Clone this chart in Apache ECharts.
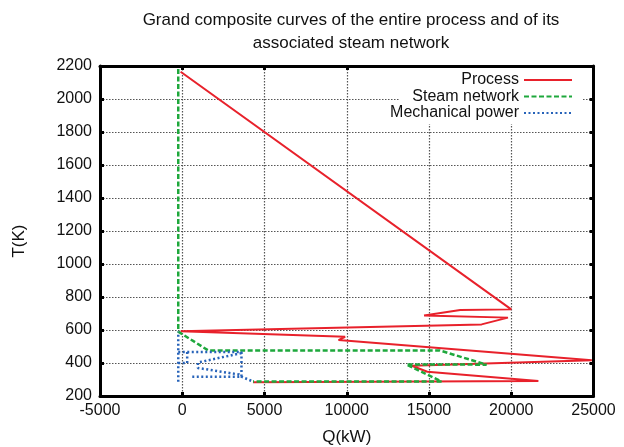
<!DOCTYPE html>
<html><head><meta charset="utf-8">
<script src="https://cdn.jsdelivr.net/npm/echarts@6/dist/echarts.min.js"></script>
<style>html,body{margin:0;padding:0;background:#fff}#c{width:624px;height:447px}</style>
</head><body><div id="c"></div>
<script>
// ---- data ----
const xTicks = [-5000, 0, 5000, 10000, 15000, 20000, 25000];
const yTicks = [200, 400, 600, 800, 1000, 1200, 1400, 1600, 1800, 2000, 2200];
const titleText = 'Grand composite curves of the entire process and of its\nassociated steam network';
const xName = 'Q(kW)';
const yName = 'T(K)';
const seriesNames = ['Process', 'Steam network', 'Mechanical power'];

const processQ = [-100, 20000, 16900, 14700, 19800, 18200, -100, 9900, 9500, 24900, 13950, 14900, 21650, 4300];
const processT = [2165, 725, 721, 688, 675, 634, 592, 559, 539, 417, 383, 347, 291, 283];

const steamQ = [-243, -243, 1580, 15650, 18500, 13630, 15760, 4300];
const steamT = [2182, 590, 476, 476, 390, 391, 288, 288];

// null = break in the curve
const mechQ = [-243, -243, null, -243, 3600, 3600, 570, null, 3600, 950, 950, 3450, 3600, 4300, null, -243, 300, 300];
const mechT = [287, 590, null, 466, 466, 317, 317, null, 460, 403, 370, 330, 317, 288, null, 400, 400, 466];

// ---- build ----
function pairs(q, t) {
  return q.map((v, i) => (v === null || t[i] === null) ? ['-', '-'] : [v, t[i]]);
}
const FONT = '"Liberation Sans", Arial, sans-serif';
const colors = ['#e8212b', '#1ea83c', '#2763b9'];
const lineTypes = ['solid', [5, 2.5], [2, 2.5]];
const widths = [2, 2.5, 2.5];
const dataSets = [pairs(processQ, processT), pairs(steamQ, steamT), pairs(mechQ, mechT)];

const chart = echarts.init(document.getElementById('c'), null, {renderer: 'canvas'});
const legendCenters = [80, 96.5, 113];

const axisCommon = {
  axisLine: {show: true, onZero: false, lineStyle: {color: '#000', width: 3}},
  axisTick: {show: true, inside: true, length: 4, lineStyle: {color: '#000', width: 3}},
};
const plain = v => String(v);

chart.setOption({
  animation: false,
  backgroundColor: '#fff',
  textStyle: {fontFamily: FONT},
  title: {
    text: titleText,
    left: 351, top: 9, padding: 0,
    textAlign: 'center',
    textStyle: {fontFamily: FONT, fontSize: 17, fontWeight: 'normal', color: '#111', lineHeight: 23}
  },
  grid: {left: 100, right: 30.5, top: 66, bottom: 51, containLabel: false, outerBoundsMode: 'none'},
  graphic: [{
    type: 'rect', left: 400, top: 68, z: 1,
    shape: {width: 183, height: 56},
    style: {fill: '#fff'}
  }],
  legend: seriesNames.map((n, i) => ({
    data: [n],
    orient: 'vertical',
    align: 'right',
    right: 51,
    top: legendCenters[i] - 8,
    padding: 0,
    itemWidth: 48,
    itemHeight: 14,
    selectedMode: false,
    itemStyle: {opacity: 0},
    textStyle: {fontFamily: FONT, fontSize: 16, color: '#111', lineHeight: 16}
  })),
  xAxis: [{
    type: 'value', position: 'bottom',
    min: xTicks[0], max: xTicks[xTicks.length - 1], interval: xTicks[1] - xTicks[0],
    name: xName, nameLocation: 'middle', nameGap: 33,
    nameTextStyle: {fontFamily: FONT, fontSize: 17, color: '#111'},
    axisLabel: {margin: 7, fontFamily: FONT, fontSize: 16, color: '#111', formatter: plain},
    splitLine: {show: true, lineStyle: {color: '#555', type: [1.5, 1.5], width: 1.2}},
    ...axisCommon
  }, {
    type: 'value', position: 'top',
    min: xTicks[0], max: xTicks[xTicks.length - 1], interval: xTicks[1] - xTicks[0],
    axisLabel: {show: false}, splitLine: {show: false},
    ...axisCommon
  }],
  yAxis: [{
    type: 'value', position: 'left',
    min: yTicks[0], max: yTicks[yTicks.length - 1], interval: yTicks[1] - yTicks[0],
    name: yName, nameLocation: 'middle', nameGap: 72, nameRotate: 90,
    nameTextStyle: {fontFamily: FONT, fontSize: 17, color: '#111', padding: [0, 20, 0, 0]},
    axisLabel: {margin: 8, fontFamily: FONT, fontSize: 16, color: '#111', formatter: plain},
    splitLine: {show: true, lineStyle: {color: '#555', type: [1.5, 1.5], width: 1.2}},
    ...axisCommon
  }, {
    type: 'value', position: 'right',
    min: yTicks[0], max: yTicks[yTicks.length - 1], interval: yTicks[1] - yTicks[0],
    axisLabel: {show: false}, splitLine: {show: false},
    ...axisCommon
  }],
  series: seriesNames.map((n, i) => ({
    name: n,
    type: 'line',
    xAxisIndex: 0, yAxisIndex: 0,
    data: dataSets[i],
    showSymbol: false,
    symbol: 'none',
    connectNulls: false,
    clip: true,
    z: 2 + i,
    color: colors[i],
    lineStyle: {color: colors[i], width: widths[i], type: lineTypes[i]}
  }))
});
</script>
</body></html>
